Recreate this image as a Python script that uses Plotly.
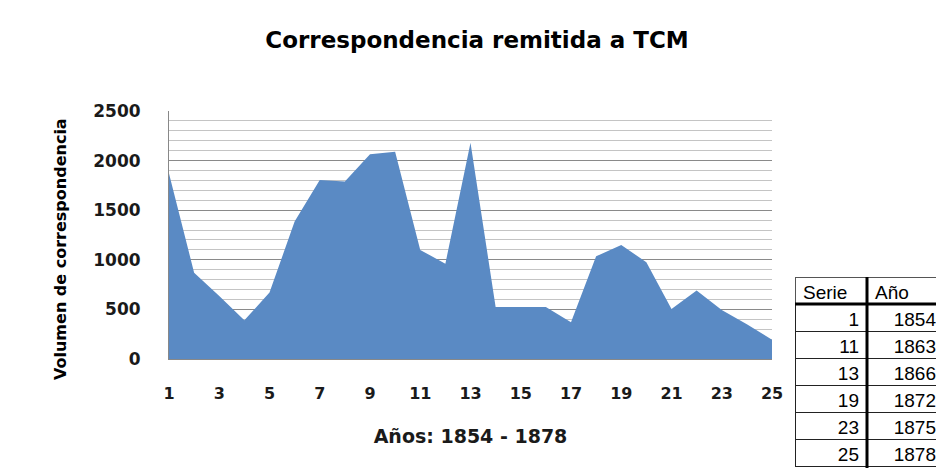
import plotly.graph_objects as go

# Serie number (1 = 1854 ... 25 = 1878) and correspondence volume
series = [1, 2, 3, 4, 5, 6, 7, 8, 9, 10, 11, 12, 13,
          14, 15, 16, 17, 18, 19, 20, 21, 22, 23, 24, 25]
volume = [1870, 870, 635, 390, 670, 1385, 1805, 1790, 2065, 2090, 1100, 960, 2180,
          525, 525, 525, 370, 1035, 1150, 975, 505, 690, 495, 350, 195]

# key table shown at the right
table_serie = [1, 11, 13, 19, 23, 25]
table_year = [1854, 1863, 1866, 1872, 1875, 1878]

# the page body adds an 8px offset, so the figure is 8px smaller than the window
OFF = 8
W, H = 944 - OFF, 468 - OFF
FONT = "DejaVu Sans"
AREA_BLUE = "#5A8AC4"


def px_x(x):
    return (x - OFF) / W


def px_y(y):
    return 1 - (y - OFF) / H


fig = go.Figure()

fig.add_trace(go.Scatter(
    x=series, y=volume,
    mode="lines", fill="tozeroy",
    line=dict(width=0, color=AREA_BLUE),
    fillcolor=AREA_BLUE,
    hoverinfo="x+y",
    showlegend=False,
))

fig.add_trace(go.Table(
    domain=dict(x=[px_x(795), 1], y=[0, px_y(277)]),
    columnwidth=[72, 77],
    header=dict(
        values=["Serie", "Año"],
        align="left",
        height=27,
        fill_color="white",
        line=dict(color="#555555", width=1),
        font=dict(family="Liberation Sans", size=19, color="black"),
    ),
    cells=dict(
        values=[table_serie, table_year],
        align="right",
        height=27,
        fill_color="white",
        line=dict(color="#222222", width=1),
        font=dict(family="Liberation Sans", size=19, color="black"),
    ),
))

# heavier rules of the key table
fig.add_shape(type="line", xref="paper", yref="paper",
              x0=px_x(867), x1=px_x(867), y0=0, y1=px_y(277),
              line=dict(color="black", width=3))
fig.add_shape(type="line", xref="paper", yref="paper",
              x0=px_x(795), x1=1, y0=px_y(304), y1=px_y(304),
              line=dict(color="black", width=3))

# y axis title, placed a bit lower than the axis centre as in the original
fig.add_annotation(
    text="Volumen de correspondencia",
    xref="paper", yref="paper",
    x=px_x(60), y=px_y(249),
    xanchor="center", yanchor="middle",
    textangle=-90, showarrow=False,
    font=dict(family=FONT, size=16, weight="bold", color="black"),
)

fig.update_layout(
    width=W, height=H,
    margin=dict(l=0, r=0, t=0, b=0),
    paper_bgcolor="white",
    plot_bgcolor="white",
    font=dict(family=FONT, color="#1a1a1a"),
    title=dict(
        text="Correspondencia remitida a TCM",
        x=px_x(477), xanchor="center",
        y=px_y(40), yanchor="middle", yref="container",
        font=dict(family=FONT, size=23, weight="bold", color="black"),
    ),
    xaxis=dict(
        domain=[px_x(169), px_x(772)],
        range=[1, 25],
        tick0=1, dtick=2,
        automargin=False,
        showgrid=False, zeroline=False,
        showline=True, linecolor="#888888", linewidth=1,
        ticks="",
        ticklabelstandoff=20,
        tickfont=dict(family=FONT, size=16, weight="bold", color="#1a1a1a"),
        title=dict(text="Años: 1854 - 1878", standoff=27,
                   font=dict(family=FONT, size=19, weight="bold", color="#1a1a1a")),
    ),
    yaxis=dict(
        domain=[px_y(359), px_y(111)],
        range=[0, 2500],
        dtick=500,
        automargin=False,
        showgrid=True, gridcolor="#8a8a8a", gridwidth=1,
        minor=dict(dtick=100, showgrid=True, gridcolor="#c4c4c4", gridwidth=1),
        zeroline=False,
        showline=True, linecolor="#888888", linewidth=1,
        ticks="",
        ticklabelstandoff=24,
        tickfont=dict(family=FONT, size=17, weight="bold", color="#1a1a1a"),
    ),
)

fig.write_html("out.html")
